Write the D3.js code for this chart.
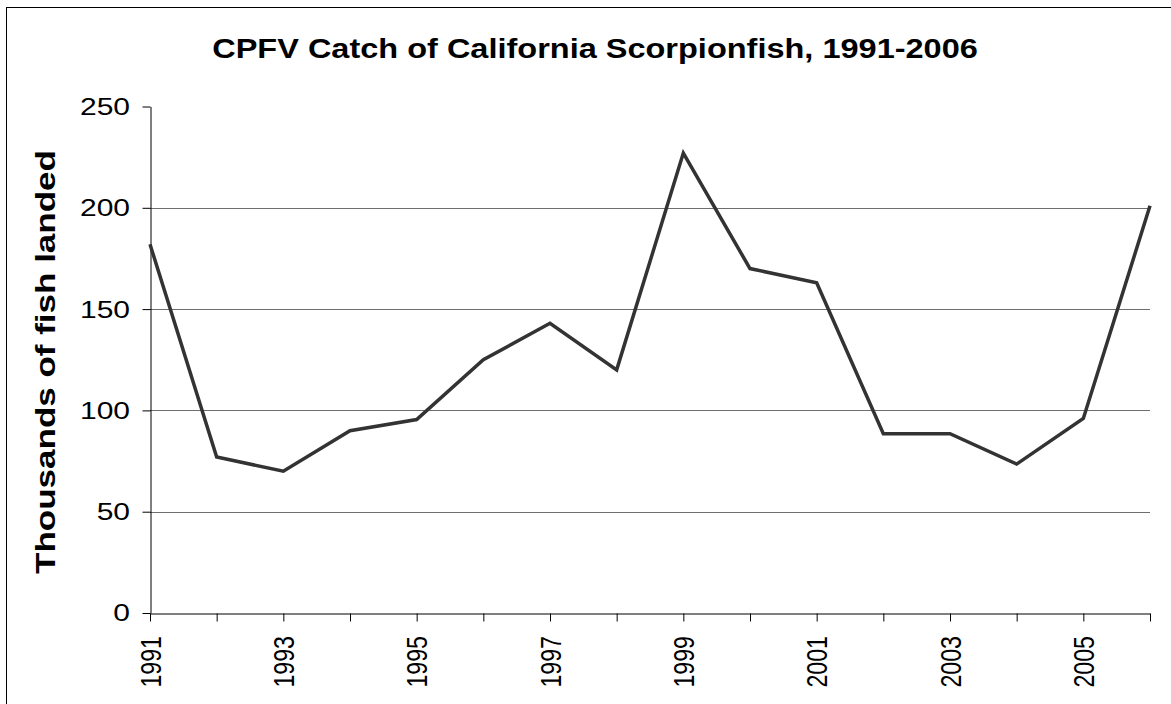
<!DOCTYPE html>
<html>
<head>
<meta charset="utf-8">
<script src="https://cdn.jsdelivr.net/npm/d3@7"></script>
<style>
  body { margin: 0; background: #fff; }
  svg text { font-family: "Liberation Sans", Arial, sans-serif; fill: #000; }
</style>
</head>
<body>
<svg id="chart" width="1171" height="704"></svg>
<script>
// values (thousands of fish)
var years = [1991, 1992, 1993, 1994, 1995, 1996, 1997, 1998, 1999, 2000, 2001, 2002, 2003, 2004, 2005, 2006];
var catchK = [182, 77, 70, 90, 95.5, 125, 143, 120, 227, 170, 163, 88.5, 88.5, 73.5, 96, 201];
var yTicks = [0, 50, 100, 150, 200, 250];
var labelYears = [1991, 1993, 1995, 1997, 1999, 2001, 2003, 2005];

var svg = d3.select("#chart");
var vs = 0.8; // the source picture looks squashed vertically

// outer frame
svg.append("rect")
    .attr("x", 6.5).attr("y", 7.5)
    .attr("width", 1190).attr("height", 720)
    .attr("fill", "none").attr("stroke", "#000").attr("stroke-width", 1);

var x = d3.scaleLinear().domain([1991, 2006]).range([150, 1150]);
var y = d3.scaleLinear().domain([0, 250]).range([613, 106.5]);

// gridlines
svg.append("g").selectAll("line")
    .data(yTicks.filter(function (d) { return d > 0 && d < 250; }))
    .enter().append("line")
    .attr("x1", 150).attr("x2", 1150)
    .attr("y1", function (d) { return Math.round(y(d)) + 0.5; })
    .attr("y2", function (d) { return Math.round(y(d)) + 0.5; })
    .attr("stroke", "#6e6e6e").attr("stroke-width", 1);

// y axis
var yAxis = svg.append("g")
    .attr("transform", "translate(150.5,0)")
    .call(d3.axisLeft(y).tickValues(yTicks).tickSize(8).tickSizeOuter(0).tickFormat(""));
yAxis.select(".domain").attr("stroke", "#000");
yAxis.selectAll(".tick line").attr("stroke", "#000");

svg.append("g").selectAll("text")
    .data(yTicks)
    .enter().append("text")
    .attr("transform", function (d) { return "translate(130," + y(d) + ") scale(1," + vs + ")"; })
    .attr("text-anchor", "end")
    .attr("dy", "0.35em")
    .style("font-size", "30px")
    .text(function (d) { return d; });

// x axis
var xAxis = svg.append("g")
    .attr("transform", "translate(0,613.5)")
    .call(d3.axisBottom(x).tickValues(years).tickSize(8).tickSizeOuter(0).tickFormat(""));
xAxis.select(".domain").attr("stroke", "#000");
xAxis.selectAll(".tick line").attr("stroke", "#000");

svg.append("g").selectAll("text")
    .data(labelYears)
    .enter().append("text")
    .attr("transform", function (d) { return "translate(" + (x(d) + 10.5) + ",636) scale(1," + vs + ") rotate(-90)"; })
    .attr("text-anchor", "end")
    .style("font-size", "29px")
    .text(function (d) { return d; });

// data line
var line = d3.line()
    .x(function (d, i) { return x(years[i]); })
    .y(function (d) { return y(d); });

svg.append("path")
    .datum(catchK)
    .attr("d", line)
    .attr("fill", "none")
    .attr("stroke", "#333333")
    .attr("stroke-width", 3.5)
    .attr("stroke-linejoin", "miter");

// title
svg.append("text")
    .attr("transform", "translate(595,58) scale(1,0.85)")
    .attr("text-anchor", "middle")
    .style("font-size", "32.5px").style("font-weight", "bold")
    .text("CPFV Catch of California Scorpionfish, 1991-2006");

// y label
svg.append("text")
    .attr("transform", "translate(55,362) scale(1,1.25) rotate(-90)")
    .attr("text-anchor", "middle")
    .style("font-size", "28px").style("font-weight", "bold")
    .text("Thousands of fish landed");
</script>
</body>
</html>
